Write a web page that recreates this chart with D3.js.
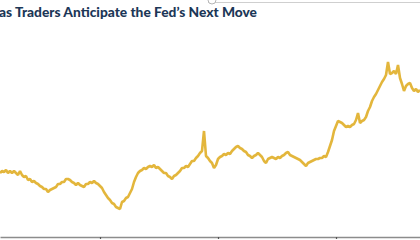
<!DOCTYPE html>
<html>
<head>
<meta charset="utf-8">
<script src="https://cdn.jsdelivr.net/npm/d3@7"></script>
<style>
  body { margin: 0; background: #fff; overflow: hidden; }
  .title { font-family: "Lato", "Open Sans", sans-serif; font-weight: 900; fill: #1c3757; }
</style>
</head>
<body>
<div id="chart"></div>
<script>
var svgWidth = 420;
var svgHeight = 240;

// title is cropped on the left in the reference
var titleText = "as Traders Anticipate the Fed\u2019s Next Move";

// one reading every trading day (cropped window)
var levels = [
  67, 69, 68, 70, 67, 69, 67, 69, 67, 65, 69, 65, 63, 64, 60, 61, 58, 59, 57, 56,
  54, 53, 51, 51, 48, 50, 51, 52, 53, 56, 56, 58, 58, 61, 61, 60, 58, 57, 55, 57,
  55, 54, 53, 56, 56, 58, 57, 59, 57, 56, 54, 52, 48, 45, 42, 40, 37, 36, 33, 32,
  31, 38, 39, 42, 43, 47, 51, 58, 63, 67, 69, 70, 72, 71, 73, 74, 73, 75, 72, 73,
  71, 69, 67, 67, 64, 63, 61, 64, 65, 67, 69, 72, 72, 74, 73, 76, 79, 79, 82, 84,
  87, 89, 109, 84, 82, 79, 77, 72, 75, 81, 83, 84, 86, 85, 87, 86, 89, 91, 93, 94,
  92, 91, 89, 88, 85, 84, 82, 84, 85, 87, 85, 83, 79, 77, 81, 82, 83, 82, 81, 83,
  82, 84, 85, 87, 88, 85, 84, 83, 82, 81, 80, 78, 76, 74, 77, 78, 79, 80, 81, 81,
  82, 82, 84, 83, 88, 94, 100, 109, 114, 119, 118, 117, 115, 113, 114, 113, 115, 116, 120, 127,
  117, 119, 120, 123, 129, 133, 139, 143, 146, 150, 154, 158, 161, 165, 178, 166, 167, 169, 166, 175,
  162, 156, 149, 154, 156, 157, 152, 149, 151, 148, 150
];

// axis ticks (labels fall outside the crop)
var tickIndex = [50, 109, 168];

var svg = d3.select("#chart")
  .append("svg")
  .attr("width", svgWidth)
  .attr("height", svgHeight);

var xScale = d3.scaleLinear()
  .domain([0, levels.length - 1])
  .range([0, svgWidth]);

var yScale = d3.scaleLinear()
  .domain([0, 240])
  .range([240, 0]);

// title
svg.append("text")
  .attr("class", "title")
  .attr("x", -1)
  .attr("y", 16.5)
  .attr("font-size", 13)
  .attr("textLength", 258)
  .attr("lengthAdjust", "spacingAndGlyphs")
  .text(titleText);

// thin rule + handle at the top edge
svg.append("line")
  .attr("x1", 208).attr("x2", svgWidth)
  .attr("y1", 2.5).attr("y2", 2.5)
  .attr("stroke", "#cfcfcf")
  .attr("stroke-width", 1);

svg.append("circle")
  .attr("cx", 212).attr("cy", 0)
  .attr("r", 4)
  .attr("fill", "#fff")
  .attr("stroke", "#b5b5b5")
  .attr("stroke-width", 1);

// the series
var line = d3.line()
  .x(function(d, i) { return xScale(i); })
  .y(function(d) { return yScale(d); });

svg.append("path")
  .datum(levels)
  .attr("fill", "none")
  .attr("stroke", "#e3b63c")
  .attr("stroke-width", 2.6)
  .attr("stroke-linejoin", "bevel")
  .attr("d", line);

// bottom axis
var bottomAxis = d3.axisBottom(xScale)
  .tickValues(tickIndex)
  .tickSize(2)
  .tickSizeOuter(0)
  .tickFormat("");

var axisG = svg.append("g")
  .attr("transform", "translate(0, 237)")
  .call(bottomAxis);

axisG.select(".domain")
  .attr("stroke", "#8c8c8c")
  .attr("stroke-width", 1.5);
axisG.selectAll(".tick line")
  .attr("stroke", "#555")
  .attr("stroke-width", 1.2);
</script>
</body>
</html>
